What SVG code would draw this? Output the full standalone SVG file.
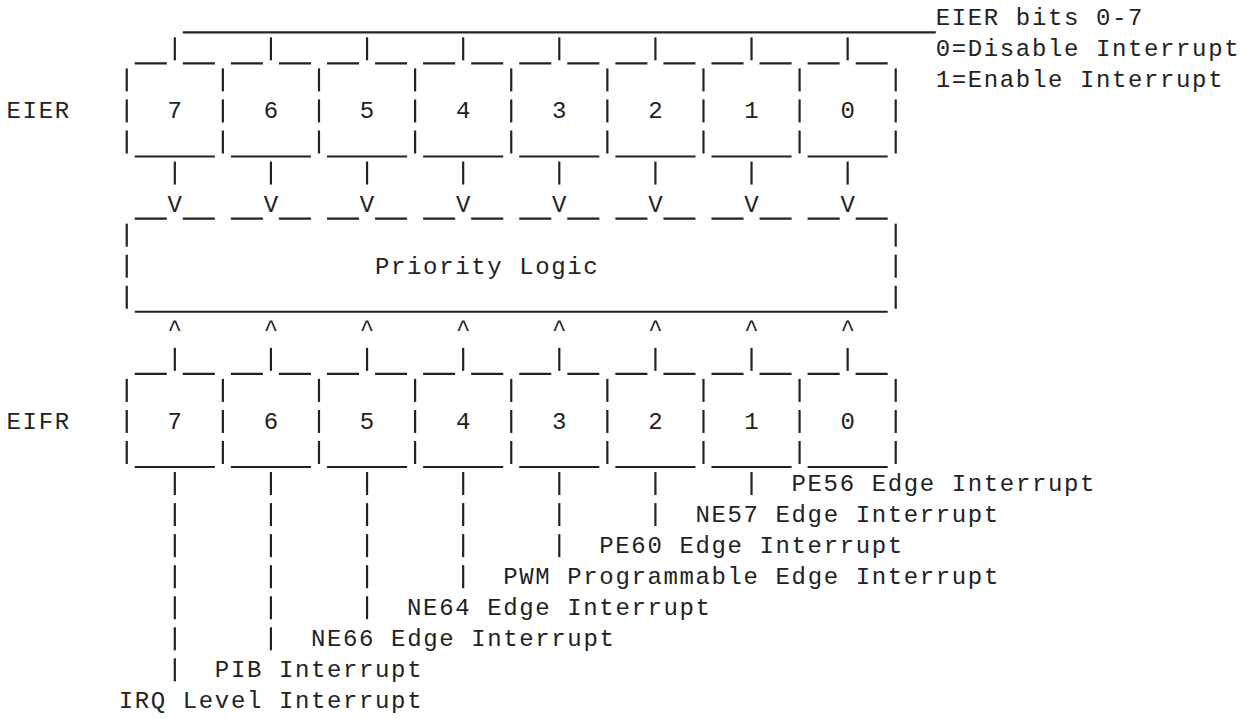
<svg xmlns="http://www.w3.org/2000/svg" width="1245" height="719" viewBox="0 0 1245 719">
<style>
.ln{stroke:#222;stroke-width:2.2;fill:none;stroke-linecap:butt}
text{font-family:"Liberation Mono","DejaVu Sans Mono",monospace;font-size:24px;fill:#222}
.t{letter-spacing:1.62px}
.c{text-anchor:middle}
</style>
<defs>
<line id="vb" class="ln" x1="0" y1="-19" x2="0" y2="4"/>
<path id="tp" class="ln" d="M-40.05 7H-8.01M8.01 7H40.05"/>
<path id="u5" class="ln" d="M-40.05 7H40.05"/>
</defs>
<rect width="1245" height="719" fill="#ffffff"/>

<g id="eier-note">
<line class="ln" x1="182.82" y1="32.3" x2="935.76" y2="32.3"/>
<text class="t" x="935.76" y="25.3">EIER bits 0-7</text>
<text class="t" x="935.76" y="56.35">0=Disable Interrupt</text>
<text class="t" x="935.76" y="87.4">1=Enable Interrupt</text>
</g>

<g id="eier">
<text class="t" x="6.6" y="118.45">EIER</text>
<g transform="translate(0,56.35)">
<use href="#tp" x="174.81"/><use href="#tp" x="270.93"/><use href="#tp" x="367.05"/><use href="#tp" x="463.17"/><use href="#tp" x="559.29"/><use href="#tp" x="655.41"/><use href="#tp" x="751.53"/><use href="#tp" x="847.65"/>
</g>
<g transform="translate(0,87.4)">
<use href="#vb" x="126.75"/><use href="#vb" x="222.87"/><use href="#vb" x="318.99"/><use href="#vb" x="415.11"/><use href="#vb" x="511.23"/><use href="#vb" x="607.35"/><use href="#vb" x="703.47"/><use href="#vb" x="799.59"/><use href="#vb" x="895.71"/>
</g>
<g transform="translate(0,118.45)">
<use href="#vb" x="126.75"/><use href="#vb" x="222.87"/><use href="#vb" x="318.99"/><use href="#vb" x="415.11"/><use href="#vb" x="511.23"/><use href="#vb" x="607.35"/><use href="#vb" x="703.47"/><use href="#vb" x="799.59"/><use href="#vb" x="895.71"/>
</g>
<g transform="translate(0,149.5)">
<use href="#vb" x="126.75"/><use href="#vb" x="222.87"/><use href="#vb" x="318.99"/><use href="#vb" x="415.11"/><use href="#vb" x="511.23"/><use href="#vb" x="607.35"/><use href="#vb" x="703.47"/><use href="#vb" x="799.59"/><use href="#vb" x="895.71"/>
<use href="#u5" x="174.81"/><use href="#u5" x="270.93"/><use href="#u5" x="367.05"/><use href="#u5" x="463.17"/><use href="#u5" x="559.29"/><use href="#u5" x="655.41"/><use href="#u5" x="751.53"/><use href="#u5" x="847.65"/>
</g>
<text class="c" x="174.81" y="118.45">7</text><text class="c" x="270.93" y="118.45">6</text><text class="c" x="367.05" y="118.45">5</text><text class="c" x="463.17" y="118.45">4</text><text class="c" x="559.29" y="118.45">3</text><text class="c" x="655.41" y="118.45">2</text><text class="c" x="751.53" y="118.45">1</text><text class="c" x="847.65" y="118.45">0</text>
</g>

<g id="priority-logic">
<g transform="translate(0,211.6)">
<use href="#tp" x="174.81"/><use href="#tp" x="270.93"/><use href="#tp" x="367.05"/><use href="#tp" x="463.17"/><use href="#tp" x="559.29"/><use href="#tp" x="655.41"/><use href="#tp" x="751.53"/><use href="#tp" x="847.65"/>
</g>
<use href="#vb" x="126.75" y="242.65"/><use href="#vb" x="895.71" y="242.65"/>
<use href="#vb" x="126.75" y="273.7"/><use href="#vb" x="895.71" y="273.7"/>
<use href="#vb" x="126.75" y="304.75"/><use href="#vb" x="895.71" y="304.75"/>
<line class="ln" x1="134.76" y1="311.75" x2="887.7" y2="311.75"/>
<text class="t" x="375.06" y="273.7">Priority Logic</text>
</g>

<g id="eifr">
<text class="t" x="6.6" y="428.95">EIFR</text>
<g transform="translate(0,366.85)">
<use href="#tp" x="174.81"/><use href="#tp" x="270.93"/><use href="#tp" x="367.05"/><use href="#tp" x="463.17"/><use href="#tp" x="559.29"/><use href="#tp" x="655.41"/><use href="#tp" x="751.53"/><use href="#tp" x="847.65"/>
</g>
<g transform="translate(0,397.9)">
<use href="#vb" x="126.75"/><use href="#vb" x="222.87"/><use href="#vb" x="318.99"/><use href="#vb" x="415.11"/><use href="#vb" x="511.23"/><use href="#vb" x="607.35"/><use href="#vb" x="703.47"/><use href="#vb" x="799.59"/><use href="#vb" x="895.71"/>
</g>
<g transform="translate(0,428.95)">
<use href="#vb" x="126.75"/><use href="#vb" x="222.87"/><use href="#vb" x="318.99"/><use href="#vb" x="415.11"/><use href="#vb" x="511.23"/><use href="#vb" x="607.35"/><use href="#vb" x="703.47"/><use href="#vb" x="799.59"/><use href="#vb" x="895.71"/>
</g>
<g transform="translate(0,460)">
<use href="#vb" x="126.75"/><use href="#vb" x="222.87"/><use href="#vb" x="318.99"/><use href="#vb" x="415.11"/><use href="#vb" x="511.23"/><use href="#vb" x="607.35"/><use href="#vb" x="703.47"/><use href="#vb" x="799.59"/><use href="#vb" x="895.71"/>
<use href="#u5" x="174.81"/><use href="#u5" x="270.93"/><use href="#u5" x="367.05"/><use href="#u5" x="463.17"/><use href="#u5" x="559.29"/><use href="#u5" x="655.41"/><use href="#u5" x="751.53"/><use href="#u5" x="847.65"/>
</g>
<text class="c" x="174.81" y="428.95">7</text><text class="c" x="270.93" y="428.95">6</text><text class="c" x="367.05" y="428.95">5</text><text class="c" x="463.17" y="428.95">4</text><text class="c" x="559.29" y="428.95">3</text><text class="c" x="655.41" y="428.95">2</text><text class="c" x="751.53" y="428.95">1</text><text class="c" x="847.65" y="428.95">0</text>
</g>

<g id="connectors">
<g transform="translate(0,56.35)">
<use href="#vb" x="174.81"/><use href="#vb" x="270.93"/><use href="#vb" x="367.05"/><use href="#vb" x="463.17"/><use href="#vb" x="559.29"/><use href="#vb" x="655.41"/><use href="#vb" x="751.53"/><use href="#vb" x="847.65"/>
</g>
<g transform="translate(0,180.55)">
<use href="#vb" x="174.81"/><use href="#vb" x="270.93"/><use href="#vb" x="367.05"/><use href="#vb" x="463.17"/><use href="#vb" x="559.29"/><use href="#vb" x="655.41"/><use href="#vb" x="751.53"/><use href="#vb" x="847.65"/>
</g>
<text class="c" x="174.81" y="211.6">V</text><text class="c" x="270.93" y="211.6">V</text><text class="c" x="367.05" y="211.6">V</text><text class="c" x="463.17" y="211.6">V</text><text class="c" x="559.29" y="211.6">V</text><text class="c" x="655.41" y="211.6">V</text><text class="c" x="751.53" y="211.6">V</text><text class="c" x="847.65" y="211.6">V</text>
<text class="c" x="174.81" y="335.8">^</text><text class="c" x="270.93" y="335.8">^</text><text class="c" x="367.05" y="335.8">^</text><text class="c" x="463.17" y="335.8">^</text><text class="c" x="559.29" y="335.8">^</text><text class="c" x="655.41" y="335.8">^</text><text class="c" x="751.53" y="335.8">^</text><text class="c" x="847.65" y="335.8">^</text>
<g transform="translate(0,366.85)">
<use href="#vb" x="174.81"/><use href="#vb" x="270.93"/><use href="#vb" x="367.05"/><use href="#vb" x="463.17"/><use href="#vb" x="559.29"/><use href="#vb" x="655.41"/><use href="#vb" x="751.53"/><use href="#vb" x="847.65"/>
</g>
<g transform="translate(0,491.05)">
<use href="#vb" x="174.81"/><use href="#vb" x="270.93"/><use href="#vb" x="367.05"/><use href="#vb" x="463.17"/><use href="#vb" x="559.29"/><use href="#vb" x="655.41"/><use href="#vb" x="751.53"/>
</g>
<g transform="translate(0,522.1)">
<use href="#vb" x="174.81"/><use href="#vb" x="270.93"/><use href="#vb" x="367.05"/><use href="#vb" x="463.17"/><use href="#vb" x="559.29"/><use href="#vb" x="655.41"/>
</g>
<g transform="translate(0,553.15)">
<use href="#vb" x="174.81"/><use href="#vb" x="270.93"/><use href="#vb" x="367.05"/><use href="#vb" x="463.17"/><use href="#vb" x="559.29"/>
</g>
<g transform="translate(0,584.2)">
<use href="#vb" x="174.81"/><use href="#vb" x="270.93"/><use href="#vb" x="367.05"/><use href="#vb" x="463.17"/>
</g>
<g transform="translate(0,615.25)">
<use href="#vb" x="174.81"/><use href="#vb" x="270.93"/><use href="#vb" x="367.05"/>
</g>
<g transform="translate(0,646.3)">
<use href="#vb" x="174.81"/><use href="#vb" x="270.93"/>
</g>
<use href="#vb" x="174.81" y="677.35"/>
</g>

<g id="labels">
<text class="t" x="791.58" y="491.05">PE56 Edge Interrupt</text>
<text class="t" x="695.46" y="522.1">NE57 Edge Interrupt</text>
<text class="t" x="599.34" y="553.15">PE60 Edge Interrupt</text>
<text class="t" x="503.22" y="584.2">PWM Programmable Edge Interrupt</text>
<text class="t" x="407.1" y="615.25">NE64 Edge Interrupt</text>
<text class="t" x="311.0" y="646.3">NE66 Edge Interrupt</text>
<text class="t" x="214.86" y="677.35">PIB Interrupt</text>
<text class="t" x="118.74" y="708.4">IRQ Level Interrupt</text>
</g>
</svg>
